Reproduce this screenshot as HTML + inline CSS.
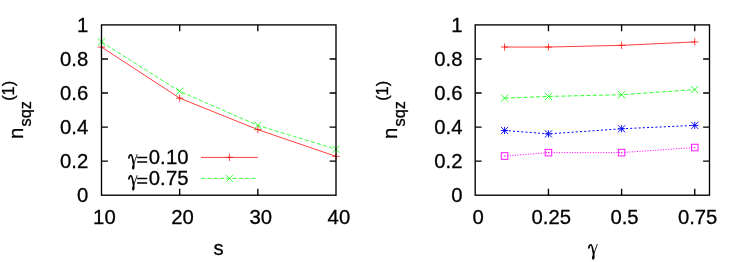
<!DOCTYPE html><html><head><meta charset="utf-8"><style>html,body{margin:0;padding:0;background:#fff}svg{display:block;will-change:transform;opacity:0.999}text{font-family:"Liberation Sans",sans-serif;fill:#000;stroke:#000;stroke-width:0.3px}</style></head><body>
<svg width="747" height="262" viewBox="0 0 747 262">
<rect width="747" height="262" fill="#fff"/>
<polyline fill="none" stroke="#ff0000" stroke-width="0.75" points="101.50,47.04 179.67,98.13 257.83,129.63 336.00,156.37"/>
<polyline fill="none" stroke="#00ff00" stroke-width="0.75" stroke-dasharray="4.2 2.1" points="101.50,41.93 179.67,91.32 257.83,125.38 336.00,149.22"/>
<path d="M97.90 47.04H105.10M101.50 43.44V50.64" stroke="#ff0000" stroke-width="0.75" fill="none"/>
<path d="M176.07 98.13H183.27M179.67 94.53V101.73" stroke="#ff0000" stroke-width="0.75" fill="none"/>
<path d="M254.23 129.63H261.43M257.83 126.03V133.23" stroke="#ff0000" stroke-width="0.75" fill="none"/>
<path d="M332.40 156.37H339.60M336.00 152.77V159.97" stroke="#ff0000" stroke-width="0.75" fill="none"/>
<path d="M97.90 38.33L105.10 45.53M97.90 45.53L105.10 38.33" stroke="#00ff00" stroke-width="0.75" fill="none"/>
<path d="M176.07 87.72L183.27 94.92M176.07 94.92L183.27 87.72" stroke="#00ff00" stroke-width="0.75" fill="none"/>
<path d="M254.23 121.78L261.43 128.98M254.23 128.98L261.43 121.78" stroke="#00ff00" stroke-width="0.75" fill="none"/>
<path d="M332.40 145.62L339.60 152.82M332.40 152.82L339.60 145.62" stroke="#00ff00" stroke-width="0.75" fill="none"/>
<g transform="translate(128.4,164.4) scale(0.98,0.98)" fill="none" stroke="#000" stroke-linecap="round" stroke-linejoin="round"><path d="M0.5 -6.6C0.8 -8.6 1.7 -9.9 2.7 -9.7C3.9 -9.4 4.5 -5 5.3 -0.4" stroke-width="1.7"/><path d="M8.9 -10C7.9 -7 6.4 -3.4 5.5 -0.6" stroke-width="0.9"/><path d="M5.4 -0.8C6.3 1.8 6.0 5.0 4.8 5.0C3.5 5.0 4.2 1.6 5.4 -0.8Z" stroke-width="0.9" fill="#000"/></g>
<path d="M137.1 157.45h10.1M137.1 162.00h10.1" stroke="#000" stroke-width="1.5" fill="none"/>
<text x="148.7" y="163.6" font-size="20.3" letter-spacing="0.15">0.10</text>
<g transform="translate(128.4,185.4) scale(0.98,0.98)" fill="none" stroke="#000" stroke-linecap="round" stroke-linejoin="round"><path d="M0.5 -6.6C0.8 -8.6 1.7 -9.9 2.7 -9.7C3.9 -9.4 4.5 -5 5.3 -0.4" stroke-width="1.7"/><path d="M8.9 -10C7.9 -7 6.4 -3.4 5.5 -0.6" stroke-width="0.9"/><path d="M5.4 -0.8C6.3 1.8 6.0 5.0 4.8 5.0C3.5 5.0 4.2 1.6 5.4 -0.8Z" stroke-width="0.9" fill="#000"/></g>
<path d="M137.1 178.45h10.1M137.1 183.00h10.1" stroke="#000" stroke-width="1.5" fill="none"/>
<text x="148.7" y="184.6" font-size="20.3" letter-spacing="0.15">0.75</text>
<polyline fill="none" stroke="#ff0000" stroke-width="0.75" points="201.00,157.40 257.80,157.40"/><path d="M225.80 157.40H233.00M229.40 153.80V161.00" stroke="#ff0000" stroke-width="0.75" fill="none"/>
<polyline fill="none" stroke="#00ff00" stroke-width="0.75" stroke-dasharray="4.2 2.1" points="201.00,178.40 257.80,178.40"/><path d="M225.80 174.80L233.00 182.00M225.80 182.00L233.00 174.80" stroke="#00ff00" stroke-width="0.75" fill="none"/>
<text x="218.6" y="254.5" font-size="20.3" text-anchor="middle">s</text>
<text x="88.30" y="202.20" font-size="20.3" text-anchor="end">0</text><path d="M101.5 161.14h6.4M336.0 161.14h-6.4" stroke="#000" stroke-width="1.35"/><text x="88.30" y="168.14" font-size="20.3" text-anchor="end">0.2</text><path d="M101.5 127.08h6.4M336.0 127.08h-6.4" stroke="#000" stroke-width="1.35"/><text x="88.30" y="134.08" font-size="20.3" text-anchor="end">0.4</text><path d="M101.5 93.02h6.4M336.0 93.02h-6.4" stroke="#000" stroke-width="1.35"/><text x="88.30" y="100.02" font-size="20.3" text-anchor="end">0.6</text><path d="M101.5 58.96h6.4M336.0 58.96h-6.4" stroke="#000" stroke-width="1.35"/><text x="88.30" y="65.96" font-size="20.3" text-anchor="end">0.8</text><text x="88.30" y="31.90" font-size="20.3" text-anchor="end">1</text><text x="104.40" y="223.5" font-size="20.3" text-anchor="middle">10</text><path d="M179.67 195.2v-6.4M179.67 24.9v6.4" stroke="#000" stroke-width="1.35"/><text x="182.57" y="223.5" font-size="20.3" text-anchor="middle">20</text><path d="M257.83 195.2v-6.4M257.83 24.9v6.4" stroke="#000" stroke-width="1.35"/><text x="260.73" y="223.5" font-size="20.3" text-anchor="middle">30</text><text x="338.90" y="223.5" font-size="20.3" text-anchor="middle">40</text><rect x="101.5" y="24.9" width="234.5" height="170.29999999999998" fill="none" stroke="#000" stroke-width="1.35"/>
<g transform="translate(22.8,139.1) rotate(-90)"><text x="0" y="0" font-size="20.3">n</text><text x="12.7" y="7.7" font-size="16.3">sqz</text><text x="38.3" y="-9" font-size="16.3">(1)</text></g>
<polyline fill="none" stroke="#ff0000" stroke-width="0.75" points="504.56,47.04 548.45,47.04 621.60,45.34 694.75,41.93"/>
<path d="M500.96 47.04H508.16M504.56 43.44V50.64" stroke="#ff0000" stroke-width="0.75" fill="none"/>
<path d="M544.85 47.04H552.05M548.45 43.44V50.64" stroke="#ff0000" stroke-width="0.75" fill="none"/>
<path d="M618.00 45.34H625.20M621.60 41.74V48.94" stroke="#ff0000" stroke-width="0.75" fill="none"/>
<path d="M691.15 41.93H698.35M694.75 38.33V45.53" stroke="#ff0000" stroke-width="0.75" fill="none"/>
<polyline fill="none" stroke="#00ff00" stroke-width="0.8" stroke-dasharray="4.2 2.1" points="504.56,98.13 548.45,96.43 621.60,94.72 694.75,89.61"/>
<path d="M500.96 94.53L508.16 101.73M500.96 101.73L508.16 94.53" stroke="#00ff00" stroke-width="0.8" fill="none"/>
<path d="M544.85 92.83L552.05 100.03M544.85 100.03L552.05 92.83" stroke="#00ff00" stroke-width="0.8" fill="none"/>
<path d="M618.00 91.12L625.20 98.32M618.00 98.32L625.20 91.12" stroke="#00ff00" stroke-width="0.8" fill="none"/>
<path d="M691.15 86.01L698.35 93.21M691.15 93.21L698.35 86.01" stroke="#00ff00" stroke-width="0.8" fill="none"/>
<polyline fill="none" stroke="#0000ff" stroke-width="1.0" stroke-dasharray="2 2.2" points="504.56,130.49 548.45,133.89 621.60,128.78 694.75,125.38"/>
<path d="M500.96 130.49H508.16M504.56 126.89V134.09" stroke="#0000ff" stroke-width="0.9" fill="none"/><path d="M500.96 126.89L508.16 134.09M500.96 134.09L508.16 126.89" stroke="#0000ff" stroke-width="0.9" fill="none"/>
<path d="M544.85 133.89H552.05M548.45 130.29V137.49" stroke="#0000ff" stroke-width="0.9" fill="none"/><path d="M544.85 130.29L552.05 137.49M544.85 137.49L552.05 130.29" stroke="#0000ff" stroke-width="0.9" fill="none"/>
<path d="M618.00 128.78H625.20M621.60 125.18V132.38" stroke="#0000ff" stroke-width="0.9" fill="none"/><path d="M618.00 125.18L625.20 132.38M618.00 132.38L625.20 125.18" stroke="#0000ff" stroke-width="0.9" fill="none"/>
<path d="M691.15 125.38H698.35M694.75 121.78V128.98" stroke="#0000ff" stroke-width="0.9" fill="none"/><path d="M691.15 121.78L698.35 128.98M691.15 128.98L698.35 121.78" stroke="#0000ff" stroke-width="0.9" fill="none"/>
<polyline fill="none" stroke="#ff00ff" stroke-width="1.0" stroke-dasharray="1.05 1.55" points="504.56,156.03 548.45,152.62 621.60,152.62 694.75,147.52"/>
<rect x="501.26" y="152.73" width="6.6" height="6.6" stroke="#ff00ff" stroke-width="0.9" fill="none"/><circle cx="504.56" cy="156.03" r="0.6" fill="#ff00ff"/>
<rect x="545.15" y="149.32" width="6.6" height="6.6" stroke="#ff00ff" stroke-width="0.9" fill="none"/><circle cx="548.45" cy="152.62" r="0.6" fill="#ff00ff"/>
<rect x="618.30" y="149.32" width="6.6" height="6.6" stroke="#ff00ff" stroke-width="0.9" fill="none"/><circle cx="621.60" cy="152.62" r="0.6" fill="#ff00ff"/>
<rect x="691.45" y="144.22" width="6.6" height="6.6" stroke="#ff00ff" stroke-width="0.9" fill="none"/><circle cx="694.75" cy="147.52" r="0.6" fill="#ff00ff"/>
<g transform="translate(588.3,254.4) scale(1.0,0.99)" fill="none" stroke="#000" stroke-linecap="round" stroke-linejoin="round"><path d="M0.5 -6.6C0.8 -8.6 1.7 -9.9 2.7 -9.7C3.9 -9.4 4.5 -5 5.3 -0.4" stroke-width="1.7"/><path d="M8.9 -10C7.9 -7 6.4 -3.4 5.5 -0.6" stroke-width="0.9"/><path d="M5.4 -0.8C6.3 1.8 6.0 5.0 4.8 5.0C3.5 5.0 4.2 1.6 5.4 -0.8Z" stroke-width="0.9" fill="#000"/></g>
<text x="462.50" y="202.20" font-size="20.3" text-anchor="end">0</text><path d="M475.2 161.14h6.4M709.5 161.14h-6.4" stroke="#000" stroke-width="1.35"/><text x="462.50" y="168.14" font-size="20.3" text-anchor="end">0.2</text><path d="M475.2 127.08h6.4M709.5 127.08h-6.4" stroke="#000" stroke-width="1.35"/><text x="462.50" y="134.08" font-size="20.3" text-anchor="end">0.4</text><path d="M475.2 93.02h6.4M709.5 93.02h-6.4" stroke="#000" stroke-width="1.35"/><text x="462.50" y="100.02" font-size="20.3" text-anchor="end">0.6</text><path d="M475.2 58.96h6.4M709.5 58.96h-6.4" stroke="#000" stroke-width="1.35"/><text x="462.50" y="65.96" font-size="20.3" text-anchor="end">0.8</text><text x="462.50" y="31.90" font-size="20.3" text-anchor="end">1</text><text x="478.20" y="223.5" font-size="20.3" text-anchor="middle">0</text><path d="M548.45 195.2v-6.4M548.45 24.9v6.4" stroke="#000" stroke-width="1.35"/><text x="551.35" y="223.5" font-size="20.3" text-anchor="middle">0.25</text><path d="M621.60 195.2v-6.4M621.60 24.9v6.4" stroke="#000" stroke-width="1.35"/><text x="624.50" y="223.5" font-size="20.3" text-anchor="middle">0.5</text><path d="M694.75 195.2v-6.4M694.75 24.9v6.4" stroke="#000" stroke-width="1.35"/><text x="697.65" y="223.5" font-size="20.3" text-anchor="middle">0.75</text><rect x="475.2" y="24.9" width="234.3" height="170.29999999999998" fill="none" stroke="#000" stroke-width="1.35"/>
<g transform="translate(396.9,139.1) rotate(-90)"><text x="0" y="0" font-size="20.3">n</text><text x="12.7" y="7.7" font-size="16.3">sqz</text><text x="38.3" y="-9" font-size="16.3">(1)</text></g>
</svg></body></html>
